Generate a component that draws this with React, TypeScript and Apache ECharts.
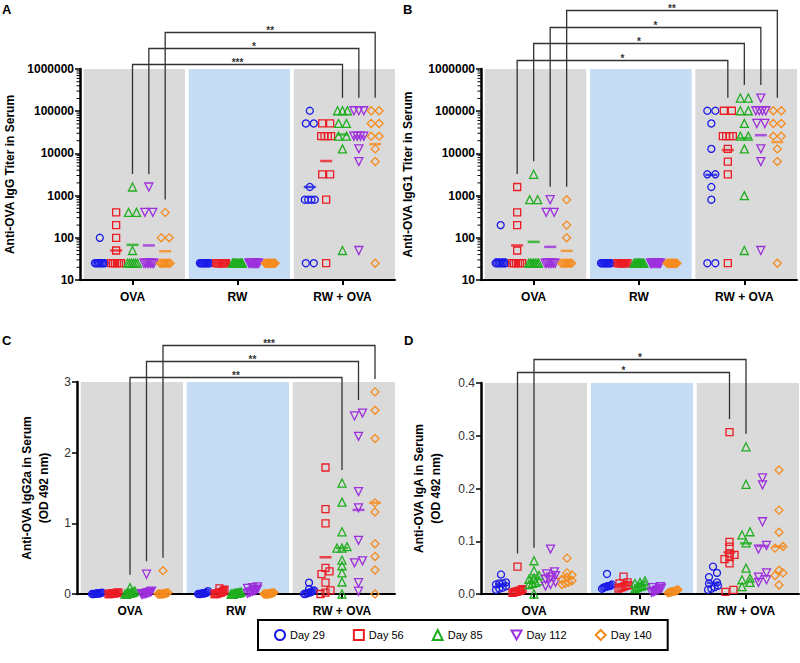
import React, { useEffect, useRef } from "react";
import * as echarts from "echarts";

const FONT = '"Liberation Sans", Arial, Helvetica, sans-serif';
const groups = ["OVA", "RW", "RW + OVA"];
const days = ["Day 29", "Day 56", "Day 85", "Day 112", "Day 140"];
const dayColors = ["#1b1be8", "#ec1c24", "#1fae1f", "#9d2fdc", "#f58c1f"];
const daySymbols = ["circle", "rect", "triangle", "path://M0,0L10,0L5,9Z", "diamond"];
const daySizes = [7, 7, 8, 8, 8];
const GRAY_BG = "#dadada";
const BLUE_BG = "#c6dcf5";

// ---------- Panel A: anti-OVA IgG titer ----------
const iggOVA = [
  [100, 25, 25, 25, 25, 25, 25, 25, 25],
  [400, 200, 100, 50, 25, 25, 25, 25, 25, 25],
  [1600, 400, 400, 50, 25, 25, 25, 25, 25, 25],
  [1600, 400, 400, 25, 25, 25, 25, 25, 25, 25],
  [400, 100, 100, 25, 25, 25, 25, 25, 25],
];
const iggRW = [
  [25, 25, 25, 25, 25, 25, 25, 25, 25, 25],
  [25, 25, 25, 25, 25, 25, 25, 25, 25, 25],
  [25, 25, 25, 25, 25, 25, 25, 25, 25, 25],
  [25, 25, 25, 25, 25, 25, 25, 25, 25, 25],
  [25, 25, 25, 25, 25, 25, 25, 25, 25, 25],
];
const iggRWOVA = [
  [102400, 51200, 51200, 1600, 800, 800, 800, 800, 25, 25],
  [51200, 51200, 25600, 25600, 25600, 25600, 3200, 3200, 800, 25],
  [102400, 102400, 102400, 51200, 51200, 25600, 25600, 12800, 50],
  [102400, 102400, 102400, 25600, 25600, 25600, 25600, 12800, 6400, 50],
  [102400, 102400, 51200, 51200, 25600, 25600, 12800, 6400, 25],
];
const iggMeans = [
  [28, 50, 68, 66, 48],
  [25, 25, 25, 25, 25],
  [1600, 6600, 28000, 25000, 16600],
];
const iggBrackets = [
  { day: 2, stars: "***" },
  { day: 3, stars: "*" },
  { day: 4, stars: "**" },
];

// ---------- Panel B: anti-OVA IgG1 titer ----------
const igg1OVA = [
  [200, 25, 25, 25, 25, 25, 25, 25, 25],
  [1600, 400, 200, 50, 25, 25, 25, 25, 25, 25],
  [3200, 800, 800, 25, 25, 25, 25, 25, 25, 25],
  [800, 400, 400, 25, 25, 25, 25, 25, 25, 25],
  [800, 200, 100, 25, 25, 25, 25, 25, 25],
];
const igg1RW = [
  [25, 25, 25, 25, 25, 25, 25, 25, 25, 25],
  [25, 25, 25, 25, 25, 25, 25, 25, 25, 25],
  [25, 25, 25, 25, 25, 25, 25, 25, 25, 25],
  [25, 25, 25, 25, 25, 25, 25, 25, 25, 25],
  [25, 25, 25, 25, 25, 25, 25, 25, 25, 25],
];
const igg1RWOVA = [
  [102400, 102400, 51200, 12800, 3200, 3200, 1600, 800, 25, 25],
  [102400, 102400, 25600, 25600, 25600, 25600, 12800, 6400, 3200, 25],
  [204800, 204800, 102400, 102400, 51200, 25600, 25600, 12800, 1000, 50],
  [204800, 102400, 102400, 102400, 102400, 51200, 51200, 12800, 6400, 50],
  [102400, 102400, 51200, 51200, 25600, 25600, 12800, 6400, 25],
];
const igg1Means = [
  [31, 66, 80, 61, 49],
  [25, 25, 25, 25, 25],
  [3100, 12000, 23000, 27000, 18500],
];
const igg1Brackets = [
  { day: 1, stars: "*" },
  { day: 2, stars: "*" },
  { day: 3, stars: "*" },
  { day: 4, stars: "**" },
];

// ---------- Panel C: anti-OVA IgG2a (OD 492 nm) ----------
const igg2aOVA = [
  [0.02, 0.01, 0.01, 0.005, 0.0, 0.0, 0.015, 0.005, 0.01, 0.0],
  [0.02, 0.015, 0.01, 0.01, 0.005, 0.005, 0.0, 0.02, 0.01, 0.0],
  [0.09, 0.04, 0.03, 0.02, 0.02, 0.01, 0.01, 0.005, 0.0, 0.0],
  [0.28, 0.04, 0.03, 0.02, 0.02, 0.01, 0.01, 0.0, 0.0, 0.0],
  [0.33, 0.02, 0.01, 0.01, 0.0, 0.0, 0.0, 0.0, 0.0],
];
const igg2aRW = [
  [0.04, 0.02, 0.01, 0.01, 0.005, 0.0, 0.0, 0.01, 0.02, 0.0],
  [0.08, 0.06, 0.04, 0.03, 0.02, 0.02, 0.01, 0.01, 0.0, 0.0],
  [0.03, 0.02, 0.02, 0.01, 0.01, 0.005, 0.0, 0.0, 0.01, 0.0],
  [0.1, 0.09, 0.08, 0.07, 0.06, 0.05, 0.04, 0.03, 0.02, 0.01],
  [0.02, 0.015, 0.01, 0.01, 0.005, 0.0, 0.0, 0.0, 0.0, 0.0],
];
const igg2aRWOVA = [
  [0.16, 0.07, 0.05, 0.04, 0.03, 0.02, 0.02, 0.01, 0.0, 0.0],
  [1.79, 1.2, 1.0, 0.37, 0.32, 0.28, 0.16, 0.05, 0.02, 0.0],
  [1.57, 1.3, 0.88, 0.67, 0.65, 0.65, 0.48, 0.4, 0.3, 0.17, 0.0],
  [2.56, 2.52, 2.23, 1.45, 1.22, 0.76, 0.47, 0.44, 0.16, 0.04],
  [2.86, 2.6, 2.2, 1.29, 1.16, 0.71, 0.53, 0.34, 0.0],
];
const igg2aMeans = [
  [0.008, 0.01, 0.02, 0.035, 0.03],
  [0.01, 0.03, 0.01, 0.06, 0.01],
  [0.04, 0.52, 0.65, 1.19, 1.29],
];
const igg2aBrackets = [
  { day: 2, stars: "**" },
  { day: 3, stars: "**" },
  { day: 4, stars: "***" },
];

// ---------- Panel D: anti-OVA IgA (OD 492 nm) ----------
const igaOVA = [
  [0.037, 0.022, 0.02, 0.018, 0.015, 0.012, 0.01, 0.008, 0.02],
  [0.052, 0.009, 0.008, 0.006, 0.005, 0.004, 0.003, 0.002, 0.006, 0.004],
  [0.063, 0.044, 0.035, 0.03, 0.028, 0.025, 0.022, 0.02, 0.018, 0.0],
  [0.085, 0.042, 0.038, 0.035, 0.032, 0.028, 0.022, 0.018, 0.015],
  [0.068, 0.04, 0.036, 0.032, 0.028, 0.025, 0.022, 0.02, 0.018],
];
const igaRW = [
  [0.038, 0.018, 0.016, 0.015, 0.014, 0.013, 0.012, 0.01, 0.015],
  [0.033, 0.022, 0.02, 0.017, 0.015, 0.013, 0.012, 0.01, 0.016],
  [0.025, 0.022, 0.02, 0.018, 0.016, 0.014, 0.012, 0.01, 0.015],
  [0.014, 0.012, 0.011, 0.01, 0.008, 0.007, 0.005, 0.004, 0.003],
  [0.008, 0.007, 0.006, 0.005, 0.004, 0.004, 0.003, 0.002, 0.005],
];
const igaRWOVA = [
  [0.052, 0.04, 0.032, 0.022, 0.02, 0.016, 0.013, 0.01, 0.008],
  [0.307, 0.099, 0.09, 0.077, 0.074, 0.07, 0.066, 0.058, 0.008, 0.004],
  [0.279, 0.208, 0.118, 0.112, 0.097, 0.049, 0.03, 0.027, 0.022, 0.014],
  [0.22, 0.207, 0.137, 0.092, 0.085, 0.04, 0.032, 0.027, 0.022],
  [0.235, 0.159, 0.117, 0.09, 0.087, 0.045, 0.04, 0.035, 0.017],
];
const igaMeans = [
  [0.019, 0.007, 0.031, 0.034, 0.032],
  [0.016, 0.018, 0.016, 0.008, 0.005],
  [0.021, 0.079, 0.096, 0.091, 0.09],
];
const igaBrackets = [
  { day: 1, stars: "*" },
  { day: 2, stars: "*" },
];

const DAY_PX = [-33, -16.5, 0, 16.5, 33];
const LOG_MINOR = [2, 3, 4, 5, 6, 7, 8, 9];

const panels = [
  {
    letter: "A", letterPos: [2, 3],
    data: [iggOVA, iggRW, iggRWOVA], means: iggMeans, brackets: iggBrackets,
    grid: { left: 77, top: 69, width: 318, height: 211 },
    log: true, yMin: 10, yMax: 1000000, interval: 0,
    name: "Anti-OVA IgG Titer in Serum", nameGap: 62, boldLabels: true,
    brBase: 5, brStep: 16,
  },
  {
    letter: "B", letterPos: [403, 3],
    data: [igg1OVA, igg1RW, igg1RWOVA], means: igg1Means, brackets: igg1Brackets,
    grid: { left: 481, top: 69, width: 316, height: 211 },
    log: true, yMin: 10, yMax: 1000000, interval: 0,
    name: "Anti-OVA IgG1 Titer in Serum", nameGap: 65, boldLabels: true,
    brBase: 9, brStep: 16.7,
  },
  {
    letter: "C", letterPos: [2, 334],
    data: [igg2aOVA, igg2aRW, igg2aRWOVA], means: igg2aMeans, brackets: igg2aBrackets,
    grid: { left: 77, top: 382, width: 318, height: 212 },
    log: false, yMin: 0, yMax: 3, interval: 1,
    name: "Anti-OVA IgG2a in Serum\n(OD 492 nm)", nameGap: 25, boldLabels: false,
    brBase: 5, brStep: 16,
  },
  {
    letter: "D", letterPos: [404, 334],
    data: [igaOVA, igaRW, igaRWOVA], means: igaMeans, brackets: igaBrackets,
    grid: { left: 481, top: 383, width: 318, height: 211 },
    log: false, yMin: 0, yMax: 0.4, interval: 0.1,
    name: "Anti-OVA IgA in Serum\n(OD 492 nm)", nameGap: 37, boldLabels: false,
    brBase: 11, brStep: 13,
  },
];

// horizontal spreading of points that share (almost) the same value
function spread(values: number[], norm: (v: number) => number): number[] {
  const idx = values.map((_, i) => i).sort((a, b) => values[a] - values[b]);
  const offs = new Array(values.length).fill(0);
  let row: number[] = [];
  const flush = () => {
    const n = row.length;
    const total = Math.min(8 * (n - 1), 10);
    row.forEach((k, i) => {
      offs[k] = n > 1 ? -total / 2 + (total * i) / (n - 1) : 0;
    });
    row = [];
  };
  for (const k of idx) {
    if (row.length && norm(values[k]) - norm(values[row[0]]) > 0.02) flush();
    row.push(k);
  }
  flush();
  return offs;
}

function buildOption() {
  const grids: any[] = [];
  const xAxes: any[] = [];
  const yAxes: any[] = [];
  const series: any[] = [];
  const graphics: any[] = [];

  panels.forEach((p, pi) => {
    const unit = p.grid.width / 3;
    const lo = p.log ? Math.log10(p.yMin) : p.yMin;
    const hi = p.log ? Math.log10(p.yMax) : p.yMax;
    const norm = (v: number) => ((p.log ? Math.log10(v) : v) - lo) / (hi - lo);
    const colX = (g: number, d: number) => g + 0.5 + DAY_PX[d] / unit;

    grids.push({ ...p.grid, containLabel: false });
    xAxes.push({
      type: "value", gridIndex: pi, min: 0, max: 3,
      axisLine: { show: true, onZero: false, lineStyle: { color: "#000", width: 2 } },
      axisTick: { show: true, customValues: [0.5, 1.5, 2.5], length: 5, lineStyle: { color: "#000", width: 2 } },
      axisLabel: {
        customValues: [0.5, 1.5, 2.5],
        formatter: (v: number) => groups[Math.floor(v)],
        fontFamily: FONT, fontWeight: "bold", fontSize: 12, color: "#000", margin: 11,
      },
      splitLine: { show: false },
    });
    const yAxis: any = {
      gridIndex: pi, min: p.yMin, max: p.yMax,
      axisLine: { show: true, lineStyle: { color: "#000", width: 2.5 } },
      axisTick: { show: true, length: 5, lineStyle: { color: "#000", width: 1.5 } },
      axisLabel: {
        fontFamily: FONT, fontSize: 12, color: p.boldLabels ? "#000" : "#333",
        fontWeight: p.boldLabels ? "bold" : "normal", margin: 6,
        formatter: p.log ? (v: number) => String(Math.round(v)) : (v: number) => (p.yMax < 1 ? v.toFixed(1) : String(Math.round(v))),
      },
      splitLine: { show: false },
      name: p.name, nameLocation: "middle", nameGap: p.nameGap,
      nameTextStyle: { fontFamily: FONT, fontWeight: "bold", fontSize: 12, color: "#000", lineHeight: 17 },
    };
    if (p.log) {
      yAxis.type = "log";
      yAxis.logBase = 10;
    } else {
      yAxis.type = "value";
      yAxis.interval = p.interval;
    }
    yAxes.push(yAxis);

    // background bands
    series.push({
      type: "custom", xAxisIndex: pi, yAxisIndex: pi, clip: false, silent: true, z: 0,
      encode: { x: 0, y: 1 },
      data: groups.map((_, g) => [g + 0.5, p.yMax, g]),
      renderItem: (params: any, api: any) => {
        const g = api.value(2);
        const a = api.coord([g + 0.035, p.yMax]);
        const b = api.coord([g + 1, p.yMin]);
        return {
          type: "rect",
          shape: { x: a[0], y: a[1], width: b[0] - a[0], height: b[1] - a[1] },
          style: { fill: g === 1 ? BLUE_BG : GRAY_BG },
        };
      },
    });

    // log-spaced minor ticks on log axes
    if (p.log) {
      const minorVals: number[] = [];
      for (let e = Math.round(lo); e < Math.round(hi); e++) {
        LOG_MINOR.forEach((m) => minorVals.push(m * Math.pow(10, e)));
      }
      series.push({
        type: "custom", xAxisIndex: pi, yAxisIndex: pi, clip: false, silent: true, z: 5,
        encode: { x: 0, y: 1 },
        data: minorVals.map((v) => [0, v]),
        renderItem: (params: any, api: any) => {
          const pt = api.coord([0, api.value(1)]);
          return {
            type: "line",
            shape: { x1: pt[0] - 3.5, y1: pt[1], x2: pt[0], y2: pt[1] },
            style: { stroke: "#000", lineWidth: 1 },
          };
        },
      });
    }

    // points
    days.forEach((dn, d) => {
      const pts: number[][] = [];
      p.data.forEach((grp, g) => {
        const vals = grp[d];
        const offs = spread(vals, norm);
        vals.forEach((v, k) => pts.push([colX(g, d) + offs[k] / unit, v]));
      });
      series.push({
        type: "scatter", name: dn, xAxisIndex: pi, yAxisIndex: pi, clip: false, silent: true, z: 2,
        symbol: daySymbols[d], symbolSize: daySizes[d],
        itemStyle: { color: "rgba(0,0,0,0)", borderColor: dayColors[d], borderWidth: 1.3, opacity: 1 },
        data: pts,
      });
    });
    // mean lines
    days.forEach((dn, d) => {
      series.push({
        type: "scatter", name: "mean " + dn, xAxisIndex: pi, yAxisIndex: pi, clip: false, silent: true, z: 3,
        symbol: "rect", symbolSize: [12, 2.5],
        itemStyle: { color: dayColors[d] },
        data: groups.map((_, g) => [colX(g, d), p.means[g][d]]),
      });
    });
    // significance brackets
    series.push({
      type: "custom", xAxisIndex: pi, yAxisIndex: pi, clip: false, silent: true, z: 4,
      encode: { x: 0, y: 1 },
      data: p.brackets.map((_, i) => [1.5, p.yMax, i]),
      renderItem: (params: any, api: any) => {
        const b = p.brackets[api.value(2)];
        const cs = params.coordSys;
        const lMax = Math.max(...p.data[0][b.day]);
        const rMax = Math.max(...p.data[2][b.day]);
        const p1 = api.coord([colX(0, b.day), lMax]);
        const p2 = api.coord([colX(2, b.day), rMax]);
        const idx = api.value(2);
        const top = Math.round(cs.y - p.brBase - idx * p.brStep) + 0.5;
        return {
          type: "group",
          children: [
            {
              type: "polyline",
              shape: { points: [[p1[0], p1[1] - 13], [p1[0], top], [p2[0], top], [p2[0], p2[1] - 13]] },
              style: { stroke: "#333", lineWidth: 1.3, fill: "none" },
            },
            {
              type: "text",
              style: {
                x: (p1[0] + p2[0]) / 2, y: top - 2, text: b.stars,
                textAlign: "center", align: "center", textVerticalAlign: "middle", verticalAlign: "middle",
                fontSize: 10, fontWeight: "bold", fontFamily: FONT, fill: "#333",
              },
            },
          ],
        };
      },
    });

    graphics.push({
      type: "text", left: p.letterPos[0], top: p.letterPos[1],
      style: { text: p.letter, fontSize: 13, fontWeight: "bold", fontFamily: FONT, fill: "#000" },
    });
  });

  return {
    animation: false,
    backgroundColor: "#fff",
    grid: grids,
    xAxis: xAxes,
    yAxis: yAxes,
    series,
    graphic: graphics,
    legend: {
      data: days, left: 258, top: 620, orient: "horizontal",
      itemGap: 28, itemWidth: 10, itemHeight: 10, padding: [9, 16],
      borderColor: "#000", borderWidth: 2, selectedMode: false,
      textStyle: { fontFamily: FONT, fontSize: 11, color: "#000" },
    },
  };
}

export default function App() {
  const ref = useRef<HTMLDivElement>(null);
  useEffect(() => {
    if (!ref.current) return;
    const chart = echarts.init(ref.current, undefined, { renderer: "svg" });
    chart.setOption(buildOption() as any);
    return () => chart.dispose();
  }, []);
  return <div ref={ref} style={{ position: "absolute", left: 0, top: 0, width: 800, height: 663 }} />;
}
